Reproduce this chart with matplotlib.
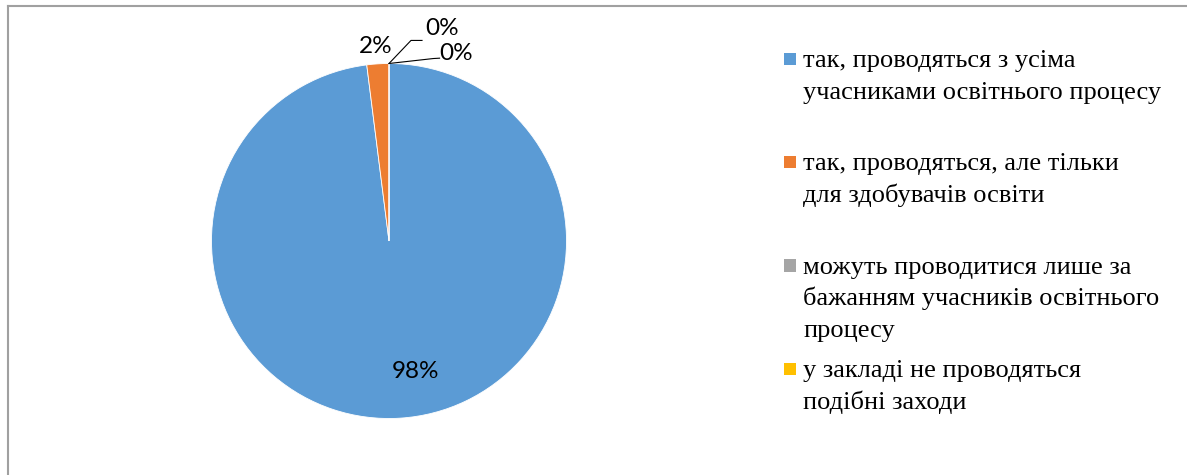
import matplotlib
matplotlib.use("Agg")
import matplotlib.pyplot as plt
from matplotlib.lines import Line2D
from matplotlib.patches import Rectangle

categories = [
    "так, проводяться з усіма\nучасниками освітнього процесу",
    "так, проводяться, але тільки\nдля здобувачів освіти",
    "можуть проводитися лише за\nбажанням учасників освітнього\nпроцесу",
    "у закладі не проводяться\nподібні заходи",
]
values = [98, 2, 0, 0]
colors = ["#5B9BD5", "#ED7D31", "#A5A5A5", "#FFC000"]

W, H = 1187, 475
fig = plt.figure(figsize=(W / 100, H / 100), dpi=100)

# pie axes: center (389, 241) px from top, radius 177.5 px
cx, cy, r = 389, 241, 177.5
ax = fig.add_axes([(cx - r) / W, (H - cy - r) / H, 2 * r / W, 2 * r / H])
wedges, _ = ax.pie(values, colors=colors, startangle=90, counterclock=False,
                   radius=1.0, wedgeprops=dict(edgecolor="white", linewidth=0.6))
ax.set_xlim(-1, 1)
ax.set_ylim(-1, 1)
ax.set_aspect("equal")
ax.axis("off")

labels = [f"{v:.0f}%" for v in values]
label_pos = [(0.152, -0.738), (-0.073, 1.093), (0.30, 1.20), (0.377, 1.059)]
lab_font = dict(family=["Lato", "DejaVu Sans"], fontsize=17.5, color="#000000")
for lab, (x, y) in zip(labels, label_pos):
    ax.text(x, y, lab, ha="center", va="center", **lab_font)

# leader lines for zero slices
ax.add_line(Line2D([0.0, 0.124, 0.186], [1.0, 1.13, 1.13], color="black", lw=0.8, clip_on=False))
ax.add_line(Line2D([0.0, 0.25, 0.285], [1.0, 1.028, 1.03], color="black", lw=0.8, clip_on=False))

# legend drawn manually, line by line
leg_font = dict(family=["Liberation Serif", "DejaVu Serif"], fontsize=19, color="#000000")
first_base = 67
slot = 103.4
line_h = 31.5
sq = 12.5
for i, (lab, col) in enumerate(zip(categories, colors)):
    base = first_base + slot * i
    fig.patches.append(Rectangle((783.5 / W, (H - (base - 2)) / H), sq / W, sq / H,
                                 transform=fig.transFigure, facecolor=col, edgecolor="none"))
    for k, line in enumerate(lab.split("\n")):
        fig.text(803 / W, (H - (base + line_h * k)) / H, line, ha="left", va="baseline",
                 transform=fig.transFigure, **leg_font)

# chart frame (left and top)
fig.add_artist(Line2D([7.5 / W, 7.5 / W], [0, (H - 6) / H], color="#A0A0A0", lw=1.5,
                      transform=fig.transFigure))
fig.add_artist(Line2D([7.5 / W, 1186 / W], [(H - 6) / H, (H - 6) / H], color="#A0A0A0", lw=1.5,
                      transform=fig.transFigure))

fig.savefig("out.png", dpi=100, facecolor="white")
